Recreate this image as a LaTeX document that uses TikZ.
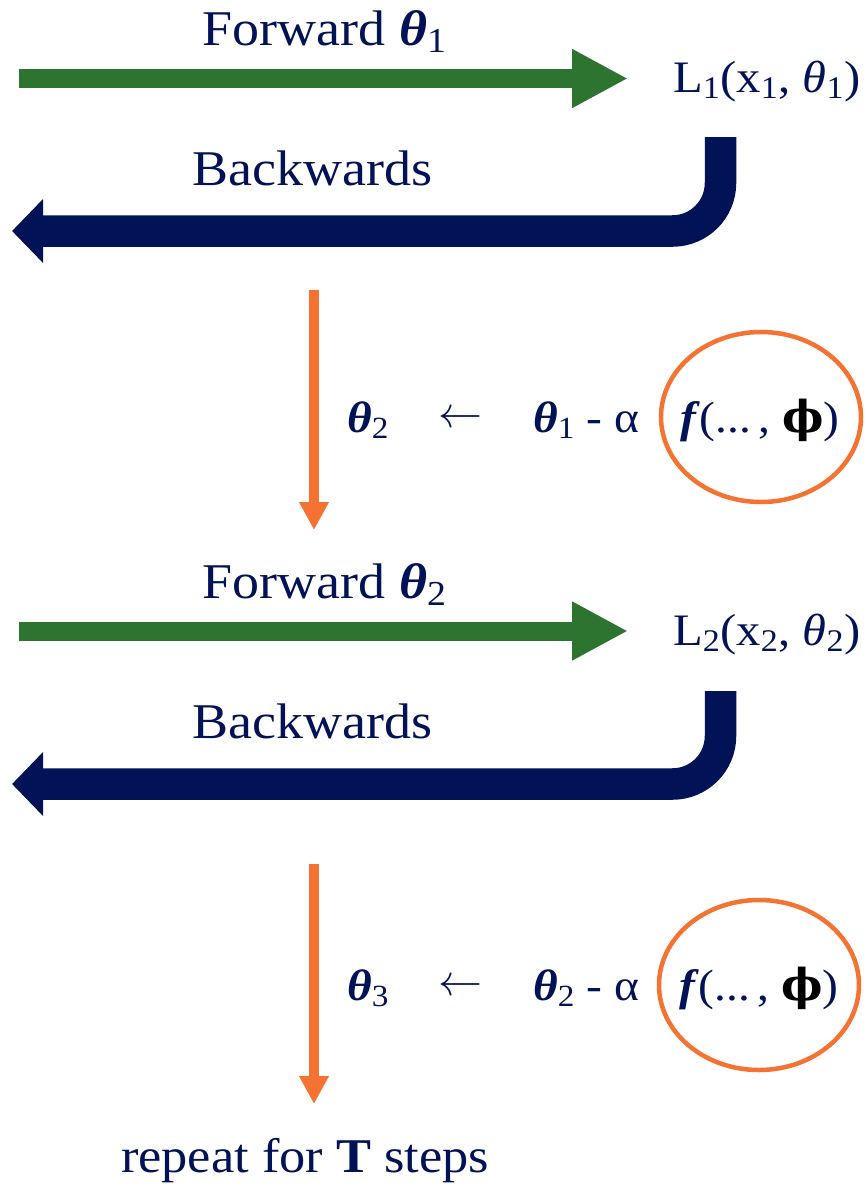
\RequirePackage{fix-cm}
\documentclass[tikz,border=0pt]{standalone}
\usepackage{amsmath}
\usepackage{fontspec}
\setmainfont{Liberation Serif}[FakeStretch=1.08]
\newfontfamily\dvs{DejaVu Serif}
\usetikzlibrary{arrows.meta,shapes.geometric}
\definecolor{navy}{HTML}{021256}
\definecolor{fgreen}{HTML}{2E7431}
\definecolor{upd}{HTML}{F47332}
\newcommand{\bth}{\textbf{\textit{θ}}}
\newcommand{\bphi}{{\color{black}\dvs\bfseries ϕ}}
\begin{document}
\begin{tikzpicture}[x=1pt,y=-1pt,
  lbl/.style={text=navy,inner sep=0pt,font=\fontsize{50}{60}\selectfont},
  losslbl/.style={text=navy,inner sep=0pt,font=\fontsize{45}{54}\selectfont,anchor=base west},
  eqlbl/.style={text=navy,inner sep=0pt,font=\fontsize{44}{52}\selectfont,anchor=base},
  fwdarrow/.style={draw=fgreen,line width=19pt,-{Triangle[length=56pt,width=55pt]}},
  bwdarrow/.style={draw=navy,line width=31.5pt,rounded corners=48pt,-{Triangle[length=31pt,width=62pt]}},
  updarrow/.style={draw=upd,line width=10pt,-{Triangle[length=28pt,width=28pt]}},
  circ/.style={draw=upd,line width=4.5pt,ellipse,inner sep=0pt,minimum width=200pt,minimum height=170pt}
]
\useasboundingbox (0,0) rectangle (865,1184);

% ---------- block 1 ----------
\node[lbl,anchor=base] (fw1) at (324.5,45) {Forward \bth\textsubscript{1}};
\coordinate (g1s) at (19,78.5);
\coordinate (g1e) at (628,78.5);
\node[losslbl] (L1) at (673,92) {L\textsubscript{1}(x\textsubscript{1}, \textit{θ}\textsubscript{1})};
\draw[fwdarrow] (g1s) -- (g1e);

\node[lbl,anchor=base] (bw1) at (312.5,185) {Backwards};
\coordinate (b1s) at (720.5,137);
\coordinate (b1c) at (720.5,231);
\coordinate (b1e) at (12,231);
\draw[bwdarrow] (b1s) -- (b1c) -- (b1e);

\coordinate (o1s) at (314,290);
\coordinate (o1e) at (314,530);
\draw[updarrow] (o1s) -- (o1e);

\node[eqlbl,anchor=base west] (t2) at (347,432) {\bth\textsubscript{2}};
\node[eqlbl] (la1) at (460,427) {$\leftarrow$};
\node[eqlbl,anchor=base west] (t1) at (533,432) {\bth\textsubscript{1} - α};
\node[circ] (e1) at (761,417) {};
\node[eqlbl] (f1) at (760,432) {\textbf{\textit{f}}(...\,, \bphi)};

% ---------- block 2 ----------
\node[lbl,anchor=base] (fw2) at (324.5,598) {Forward \bth\textsubscript{2}};
\coordinate (g2s) at (19,631);
\coordinate (g2e) at (628,631);
\node[losslbl] (L2) at (673,645) {L\textsubscript{2}(x\textsubscript{2}, \textit{θ}\textsubscript{2})};
\draw[fwdarrow] (g2s) -- (g2e);

\node[lbl,anchor=base] (bw2) at (312.5,738) {Backwards};
\coordinate (b2s) at (720.5,691);
\coordinate (b2c) at (720.5,784);
\coordinate (b2e) at (12,784);
\draw[bwdarrow] (b2s) -- (b2c) -- (b2e);

\coordinate (o2s) at (314,864);
\coordinate (o2e) at (314,1104);
\draw[updarrow] (o2s) -- (o2e);

\node[eqlbl,anchor=base west] (t3) at (347,1000) {\bth\textsubscript{3}};
\node[eqlbl] (la2) at (460,995) {$\leftarrow$};
\node[eqlbl,anchor=base west] (t2b) at (533,1000) {\bth\textsubscript{2} - α};
\node[circ] (e2) at (759,985) {};
\node[eqlbl] (f2) at (759,1000) {\textbf{\textit{f}}(...\,, \bphi)};

\node[lbl,anchor=base,font=\fontsize{48.5}{58}\selectfont] (rep) at (305,1172) {repeat for \textbf{T} steps};
\end{tikzpicture}
\end{document}
